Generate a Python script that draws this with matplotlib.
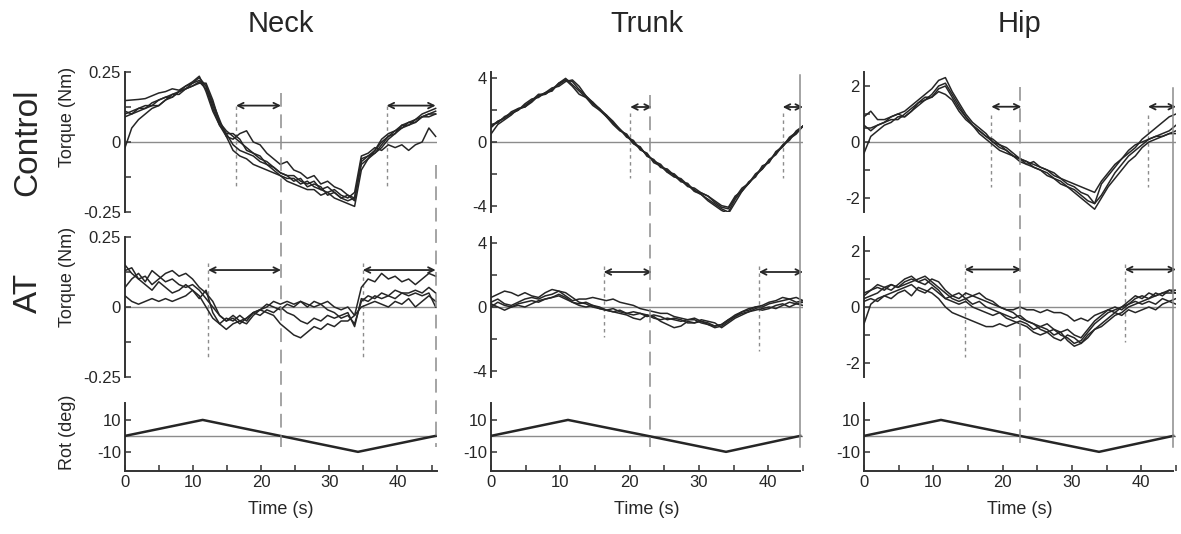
import numpy as np
import matplotlib

matplotlib.use("Agg")
import matplotlib.pyplot as plt
from matplotlib.lines import Line2D
from matplotlib.transforms import blended_transform_factory

plt.rcParams["font.family"] = ["Liberation Sans", "DejaVu Sans"]

W, H = 1181, 534

COLUMNS = ["Neck", "Trunk", "Hip"]
PERIOD = [45.6, 44.6, 44.6]
XMAX = [45.8, 44.6, 44.6]
TORQUE_LIM = [0.25, 4.4, 2.5]
TORQUE_MAJOR = [0.25, 4, 2]
TORQUE_TICKLABELS = [["-0.25", "0", "0.25"], ["-4", "0", "4"], ["-2", "0", "2"]]

ROT_DEG = [0, 10, 0, -10, 0]
ROT_TIMES = [[0, 11.4, 22.8, 34.2, 45.6],
             [0, 11.1, 22.6, 33.9, 44.6],
             [0, 11.1, 22.5, 33.9, 44.6]]

# torque traces, sampled evenly over one rotation period
NECK_CTRL = [
    [.148, .15, .152, .155, .165, .175, .18, .19, .185, .2, .215, .235, .18, .11, .06, .02, .01, .03, .04, .0,
     -.01, -.04, -.06, -.08, -.07, -.1, -.11, -.13, -.12, -.15, -.14, -.16, -.17, -.19, -.2, -.07, -.05, -.04,
     -.01, .02, .04, .05, .07, .08, .1, .11, .12],
    [.1, .11, .12, .12, .14, .15, .16, .17, .18, .19, .2, .215, .19, .12, .06, .03, -.01, -.03, -.04, -.05,
     -.07, -.08, -.1, -.12, -.13, -.13, -.15, -.14, -.16, -.17, -.16, -.18, -.2, -.19, -.21, -.06, -.05, -.03,
     .0, .02, .03, .05, .06, .08, .09, .1, .1],
    [-.02, .05, .08, .1, .12, .13, .15, .16, .18, .19, .21, .22, .2, .14, .08, .02, -.03, -.05, -.06, -.08,
     -.09, -.1, -.11, -.12, -.14, -.15, -.16, -.17, -.17, -.19, -.18, -.2, -.21, -.22, -.23, -.1, -.06, -.04,
     -.02, .01, .03, .06, .07, .07, .09, .1, .11],
    [.09, .1, .11, .12, .13, .13, .15, .17, .17, .19, .2, .21, .21, .15, .07, .04, .02, .0, -.02, -.04, -.05,
     -.08, -.09, -.11, -.12, -.12, -.14, -.15, -.14, -.17, -.18, -.17, -.19, -.2, -.18, -.05, -.04, -.02, -.03,
     -.01, -.02, -.01, -.03, -.01, .0, .05, .02],
    [.11, .1, .12, .13, .13, .15, .16, .16, .18, .2, .21, .23, .2, .13, .07, .03, .03, .01, -.03, -.04, -.06,
     -.07, -.09, -.11, -.12, -.14, -.13, -.16, -.15, -.16, -.19, -.18, -.2, -.21, -.2, -.08, -.06, -.03, .01,
     .03, .04, .06, .06, .07, .09, .09, .1],
]
NECK_AT = [
    [.15, .12, .1, .11, .08, .1, .12, .13, .11, .12, .1, .07, .05, .02, -.03, -.05, -.04, -.06, -.04, -.02,
     -.01, -.02, -.03, -.06, -.08, -.1, -.11, -.09, -.07, -.08, -.06, -.07, -.05, -.05, -.03, .07, .1, .09,
     .12, .1, .11, .09, .1, .08, .1, .12, .11],
    [.13, .14, .1, .08, .06, .09, .07, .05, .06, .08, .06, .03, .06, -.02, -.06, -.08, -.06, -.05, -.06, -.03,
     -.01, .0, .02, .01, .02, .01, .02, .0, .02, .01, -.01, -.02, -.04, -.03, -.06, .02, .04, .03, .05, .04,
     .06, .05, .05, .06, .05, .07, .05],
    [.07, .1, .12, .09, .13, .11, .09, .1, .08, .07, .08, .06, .03, .0, -.03, -.05, -.03, -.05, -.04, -.02,
     -.03, -.01, -.02, .0, -.02, -.03, -.05, -.06, -.04, -.05, -.03, -.04, -.03, -.02, -.07, .03, .02, .04,
     .03, .04, .03, .05, .04, .05, .04, .05, .0],
    [.04, .02, .01, .02, .03, .02, .03, .02, .03, .04, .06, .04, .0, -.04, -.06, -.04, -.05, -.03, -.05, -.02,
     -.01, .01, .0, -.01, .01, .0, .02, .01, .0, .01, .02, .0, -.01, .0, -.03, .0, .01, .02, .01, .0, .02,
     .01, .03, .0, .02, .04, .02],
]
TRUNK_CTRL = [
    [1.0, 1.3, 1.5, 1.8, 2.0, 2.3, 2.6, 2.9, 3.0, 3.3, 3.6, 3.9, 3.8, 3.3, 2.9, 2.5, 2.1, 1.7, 1.2, 0.8, 0.4,
     0.0, -0.4, -0.8, -1.2, -1.5, -1.8, -2.1, -2.4, -2.7, -3.0, -3.3, -3.6, -3.9, -4.2, -4.4, -3.6, -3.0,
     -2.6, -2.1, -1.6, -1.2, -0.7, -0.2, 0.2, 0.6, 1.0],
    [0.5, 1.1, 1.4, 1.7, 2.1, 2.2, 2.5, 2.9, 3.1, 3.2, 3.7, 3.9, 3.5, 3.0, 2.8, 2.3, 2.0, 1.6, 1.1, 0.7, 0.5,
     -0.1, -0.3, -0.9, -1.1, -1.6, -1.7, -2.1, -2.5, -2.6, -3.1, -3.2, -3.4, -3.7, -4.0, -4.1, -3.4, -3.1,
     -2.5, -2.2, -1.5, -1.3, -0.6, -0.3, 0.3, 0.6, 1.0],
    [1.1, 1.2, 1.6, 1.8, 2.0, 2.4, 2.7, 2.8, 3.1, 3.4, 3.5, 3.8, 3.9, 3.5, 2.9, 2.4, 2.1, 1.6, 1.2, 0.8, 0.3,
     0.1, -0.5, -0.7, -1.3, -1.5, -1.9, -2.0, -2.4, -2.8, -2.9, -3.2, -3.4, -3.8, -4.1, -4.2, -3.5, -2.9,
     -2.6, -2.0, -1.7, -1.1, -0.8, -0.2, 0.1, 0.7, 1.0],
    [0.9, 1.3, 1.5, 1.9, 2.1, 2.2, 2.6, 3.0, 3.0, 3.3, 3.7, 4.0, 3.6, 3.2, 2.8, 2.5, 2.0, 1.7, 1.3, 0.8, 0.4,
     -0.1, -0.4, -0.8, -1.2, -1.4, -1.9, -2.2, -2.3, -2.7, -3.1, -3.3, -3.7, -4.0, -4.3, -4.5, -3.8, -3.1,
     -2.6, -2.1, -1.7, -1.2, -0.7, -0.3, 0.2, 0.5, 1.0],
]
TRUNK_AT = [
    [0.6, 0.8, 1.0, 0.9, 0.7, 0.9, 0.7, 0.6, 0.9, 1.1, 1.0, 0.7, 0.4, 0.5, 0.5, 0.6, 0.5, 0.4, 0.5, 0.3, 0.2,
     0.1, -0.1, -0.2, -0.3, -0.4, -0.4, -0.6, -0.7, -0.8, -0.7, -0.9, -1.0, -1.2, -1.1, -0.8, -0.5, -0.3,
     -0.1, 0.0, 0.1, 0.3, 0.4, 0.6, 0.5, 0.6, 0.4],
    [0.2, 0.0, -0.2, 0.0, 0.1, 0.0, 0.2, 0.4, 0.5, 0.6, 0.8, 0.6, 0.3, 0.2, 0.3, 0.1, 0.0, -0.2, -0.3, -0.4,
     -0.5, -0.7, -0.8, -0.5, -0.6, -0.9, -1.1, -1.3, -1.2, -0.9, -1.0, -0.8, -0.9, -1.0, -1.3, -1.0, -0.7,
     -0.5, -0.3, -0.1, -0.2, -0.1, 0.1, 0.2, 0.0, 0.2, 0.1],
    [0.3, 0.5, 0.2, 0.1, 0.3, 0.5, 0.6, 0.5, 0.7, 0.8, 1.0, 0.9, 0.6, 0.3, 0.2, 0.0, -0.1, -0.2, -0.1, -0.3,
     -0.4, -0.3, -0.4, -0.5, -0.7, -0.8, -0.7, -0.8, -0.9, -0.8, -0.8, -1.0, -1.1, -1.2, -1.1, -0.8, -0.6,
     -0.3, -0.2, 0.0, 0.0, 0.2, 0.3, 0.4, 0.5, 0.3, 0.4],
    [0.0, 0.3, 0.1, 0.0, 0.2, 0.3, 0.4, 0.3, 0.5, 0.6, 0.7, 0.5, 0.3, 0.1, 0.0, 0.1, -0.1, -0.2, -0.3, -0.2,
     -0.4, -0.5, -0.4, -0.6, -0.5, -0.6, -0.8, -0.7, -0.8, -1.0, -1.0, -0.9, -1.1, -1.3, -1.2, -0.9, -0.6,
     -0.4, -0.3, -0.2, -0.1, 0.0, -0.1, 0.1, 0.3, 0.2, 0.3],
]
HIP_CTRL = [
    [0.9, 1.1, 0.8, 0.8, 0.9, 1.0, 1.1, 1.3, 1.5, 1.7, 1.9, 2.2, 2.3, 1.8, 1.4, 1.0, 0.7, 0.5, 0.3, 0.0, -0.1,
     -0.2, -0.4, -0.6, -0.7, -0.8, -0.9, -1.0, -1.1, -1.3, -1.5, -1.6, -1.8, -1.9, -2.2, -1.5, -1.2, -0.9,
     -0.6, -0.4, -0.2, 0.1, 0.3, 0.5, 0.7, 0.9, 1.0],
    [-0.4, 0.2, 0.4, 0.6, 0.7, 0.9, 0.9, 1.1, 1.3, 1.5, 1.6, 1.9, 2.0, 1.6, 1.2, 0.9, 0.6, 0.4, 0.2, 0.1,
     -0.1, -0.3, -0.5, -0.6, -0.7, -0.9, -1.0, -1.2, -1.3, -1.5, -1.6, -1.8, -2.0, -2.2, -2.4, -2.0, -1.6,
     -1.3, -1.0, -0.7, -0.5, -0.2, 0.0, 0.1, 0.2, 0.3, 0.4],
    [0.5, 0.5, 0.6, 0.7, 0.8, 0.8, 1.0, 1.2, 1.4, 1.6, 1.6, 1.8, 1.7, 1.5, 1.1, 0.8, 0.6, 0.4, 0.2, 0.0, -0.2,
     -0.3, -0.5, -0.6, -0.8, -0.7, -0.9, -1.0, -1.2, -1.3, -1.4, -1.5, -1.6, -1.7, -1.8, -1.4, -1.1, -0.8,
     -0.6, -0.3, -0.1, 0.0, 0.1, 0.2, 0.2, 0.3, 0.3],
    [0.6, 0.4, 0.6, 0.7, 0.9, 1.0, 0.9, 1.1, 1.4, 1.5, 1.7, 2.0, 2.1, 1.7, 1.3, 0.9, 0.6, 0.3, 0.1, -0.1, -0.3,
     -0.4, -0.5, -0.7, -0.8, -0.9, -1.0, -1.1, -1.3, -1.4, -1.6, -1.7, -1.9, -2.1, -2.2, -1.9, -1.5, -1.1,
     -0.8, -0.5, -0.3, -0.1, 0.1, 0.2, 0.3, 0.4, 0.6],
]
HIP_AT = [
    [0.5, 0.6, 0.7, 0.6, 0.8, 0.7, 0.9, 1.0, 0.9, 0.8, 1.0, 0.9, 0.6, 0.4, 0.5, 0.3, 0.4, 0.5, 0.3, 0.2, 0.0,
     -0.1, -0.2, -0.4, -0.5, -0.6, -0.8, -0.9, -0.8, -1.0, -1.1, -1.3, -1.2, -0.9, -0.6, -0.4, -0.2, -0.1,
     0.0, 0.2, 0.4, 0.3, 0.5, 0.4, 0.5, 0.6, 0.6],
    [-0.6, 0.1, 0.3, 0.4, 0.5, 0.6, 0.7, 0.8, 0.6, 0.5, 0.7, 0.5, 0.3, 0.2, 0.1, 0.2, 0.0, -0.1, -0.2, -0.3,
     -0.2, -0.4, -0.5, -0.6, -0.7, -0.9, -1.0, -0.9, -1.1, -1.2, -1.0, -1.1, -1.3, -1.0, -0.8, -0.7, -0.5,
     -0.3, -0.2, 0.0, 0.1, 0.2, 0.3, 0.4, 0.5, 0.5, 0.5],
    [0.2, 0.3, 0.2, 0.4, 0.3, 0.5, 0.6, 0.4, 0.7, 0.6, 0.5, 0.3, 0.0, -0.2, -0.3, -0.4, -0.5, -0.6, -0.7,
     -0.7, -0.6, -0.7, -0.6, -0.5, -0.6, -0.8, -0.7, -0.8, -1.0, -0.9, -1.2, -1.4, -1.3, -1.1, -0.8, -0.6,
     -0.4, -0.2, -0.3, -0.1, -0.2, -0.1, 0.0, -0.1, 0.1, 0.2, 0.1],
    [0.4, 0.6, 0.8, 0.7, 0.6, 0.8, 1.0, 1.1, 0.9, 1.0, 0.8, 0.6, 0.3, 0.4, 0.3, 0.5, 0.4, 0.3, 0.2, 0.1, 0.0,
     -0.1, -0.1, 0.0, -0.1, -0.1, -0.2, -0.1, -0.2, -0.2, -0.3, -0.5, -0.4, -0.5, -0.3, -0.2, -0.1, 0.0,
     -0.1, 0.1, 0.2, 0.1, 0.2, 0.1, 0.3, 0.2, 0.3],
    [0.3, 0.4, 0.5, 0.7, 0.8, 0.7, 0.8, 0.9, 1.0, 1.1, 0.9, 0.7, 0.5, 0.3, 0.2, 0.3, 0.1, 0.2, 0.0, -0.1,
     -0.2, -0.3, -0.4, -0.3, -0.5, -0.6, -0.7, -0.6, -0.8, -0.9, -0.8, -1.0, -1.1, -0.8, -0.5, -0.3, -0.1,
     -0.2, 0.0, 0.1, 0.3, 0.4, 0.3, 0.5, 0.4, 0.6, 0.5],
]
CTRL_TRACES = [NECK_CTRL, TRUNK_CTRL, HIP_CTRL]
AT_TRACES = [NECK_AT, TRUNK_AT, HIP_AT]

# onset markers (s) and the extent of their short dotted lines
MID_LINE = [22.9, 23.0, 22.5]
CTRL_MARK = [[16.3, 38.4], [19.9, 41.7], [18.2, 40.6]]
AT_MARK = [[12.2, 34.9], [16.1, 38.3], [14.4, 37.3]]
CTRL_ARROW_Y = [0.13, 2.2, 1.26]
AT_ARROW_Y = [0.132, 2.2, 1.34]
CTRL_MARK_SPAN = [[(0.13, -0.167), (0.13, -0.167)], [(1.8, -2.25), (1.8, -2.25)], [(0.97, -1.62), (0.97, -1.62)]]
AT_MARK_SPAN = [[(0.157, -0.18), (0.157, -0.18)], [(2.56, -1.9), (2.56, -2.75)], [(1.55, -1.8), (1.55, -1.26)]]

INK = "#262626"
GRAY = "#8c8c8c"

fig = plt.figure(figsize=(W / 100, H / 100), dpi=100)

COL_LEFT = [125, 491, 864]
COL_W = 312
ROWS = [(72, 212), (237, 377), (403, 471)]


def px_axes(x0, y0, y1):
    return fig.add_axes([x0 / W, 1 - y1 / H, COL_W / W, (y1 - y0) / H])


def style_axes(ax, bottom=False):
    for side in ("top", "right"):
        ax.spines[side].set_visible(False)
    ax.spines["left"].set_color("#333333")
    ax.spines["left"].set_linewidth(1.4)
    if bottom:
        ax.spines["bottom"].set_color("#333333")
        ax.spines["bottom"].set_linewidth(1.4)
    else:
        ax.spines["bottom"].set_visible(False)
        ax.set_xticks([])
    ax.tick_params(direction="in", length=4, width=1.1, colors="#333333", labelsize=12,
                   labelcolor=INK, pad=3)
    ax.patch.set_visible(False)


def torque_panel(ax, col, traces, marks, spans, arrow_y):
    lim = TORQUE_LIM[col]
    major = TORQUE_MAJOR[col]
    ax.axhline(0, color=GRAY, lw=1.0, zorder=1)
    for tr in traces:
        t = np.linspace(0, PERIOD[col], len(tr))
        ax.plot(t, tr, color=INK, lw=1.1, zorder=3)
    ax.set_xlim(0, XMAX[col])
    ax.set_ylim(-lim, lim)
    ax.set_yticks([-major, -major / 2, 0, major / 2, major])
    labels = TORQUE_TICKLABELS[col]
    ax.set_yticklabels([labels[0], "", labels[1], "", labels[2]])
    ends = [MID_LINE[col], PERIOD[col]]
    for m, (top, bot), end in zip(marks, spans, ends):
        ax.plot([m, m], [top, bot], color=GRAY, lw=1.0, ls=(0, (2.5, 2.5)), zorder=2)
        ax.annotate("", xy=(end, arrow_y), xytext=(m, arrow_y),
                    arrowprops=dict(arrowstyle="<->", color=INK, lw=1.3, shrinkA=0, shrinkB=0,
                                    mutation_scale=10))
    style_axes(ax)


for col, name in enumerate(COLUMNS):
    x0 = COL_LEFT[col]
    ax_c = px_axes(x0, *ROWS[0])
    ax_a = px_axes(x0, *ROWS[1])
    ax_r = px_axes(x0, *ROWS[2])

    torque_panel(ax_c, col, CTRL_TRACES[col], CTRL_MARK[col], CTRL_MARK_SPAN[col], CTRL_ARROW_Y[col])
    torque_panel(ax_a, col, AT_TRACES[col], AT_MARK[col], AT_MARK_SPAN[col], AT_ARROW_Y[col])

    ax_r.axhline(0, color=GRAY, lw=1.0, zorder=1)
    ax_r.plot(ROT_TIMES[col], ROT_DEG, color=INK, lw=1.8, zorder=3)
    ax_r.set_xlim(0, XMAX[col])
    ax_r.set_ylim(-22, 20.6)
    ax_r.set_yticks([-10, 10])
    ax_r.set_yticklabels(["-10", "10"])
    ax_r.set_xticks(np.arange(0, 46, 5))
    ax_r.set_xticklabels(["0", "", "10", "", "20", "", "30", "", "40", ""])
    style_axes(ax_r, bottom=True)
    ax_r.spines["bottom"].set_bounds(0, XMAX[col])
    ax_r.set_xlabel("Time (s)", fontsize=13, color=INK, labelpad=8)

    # long vertical markers spanning all three rows
    trans = blended_transform_factory(ax_r.transData, fig.transFigure)
    mid_top = [93, 95, 87][col]
    end_top = [165, 75, 88][col]
    fig.add_artist(Line2D([MID_LINE[col]] * 2, [1 - mid_top / H, 1 - 447 / H], transform=trans,
                          color=GRAY, lw=1.1, ls=(0, (9, 5))))
    end_style = (0, (9, 5)) if col == 0 else "-"
    fig.add_artist(Line2D([PERIOD[col]] * 2, [1 - end_top / H, 1 - 447 / H], transform=trans,
                          color=GRAY, lw=1.1, ls=end_style))

    fig.text((x0 + COL_W / 2) / W, 1 - 24 / H, name, fontsize=21, ha="center", va="center", color=INK)

    if col == 0:
        fig.text(68 / W, 1 - 117 / H, "Torque (Nm)", rotation=90, fontsize=13, ha="center", va="center",
                 color=INK)
        fig.text(68 / W, 1 - 277 / H, "Torque (Nm)", rotation=90, fontsize=13, ha="center", va="center",
                 color=INK)
        fig.text(68 / W, 1 - 432 / H, "Rot (deg)", rotation=90, fontsize=13, ha="center", va="center",
                 color=INK)

fig.text(28 / W, 1 - 142 / H, "Control", rotation=90, fontsize=24, ha="center", va="center", color=INK)
fig.text(28 / W, 1 - 293 / H, "AT", rotation=90, fontsize=24, ha="center", va="center", color=INK)

fig.savefig("out.png", dpi=100)
